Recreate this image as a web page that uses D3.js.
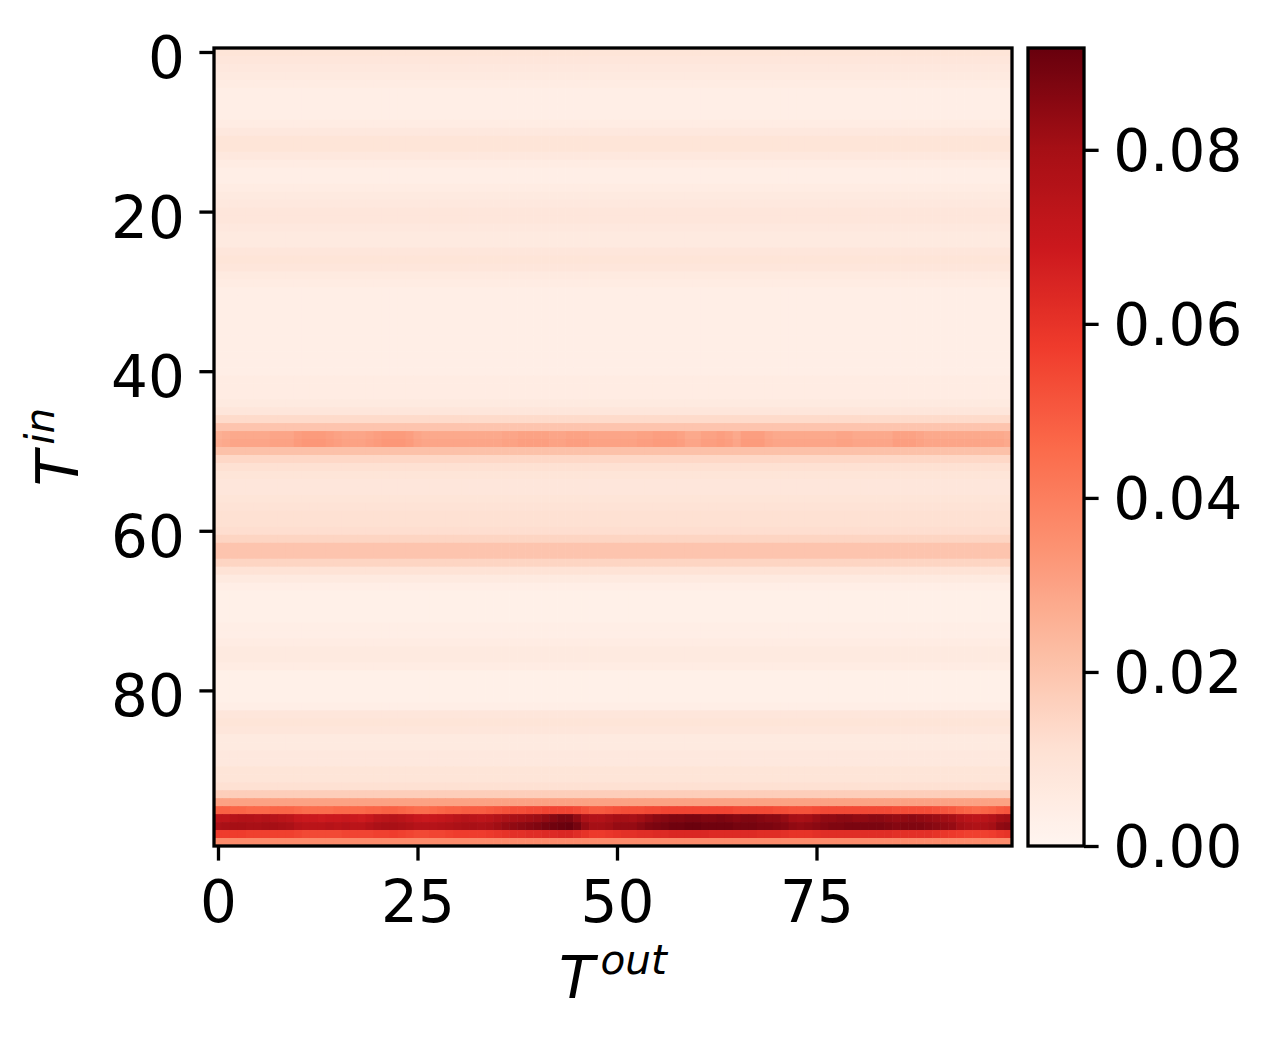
<!DOCTYPE html>
<html>
<head>
<meta charset="utf-8">
<script src="https://cdn.jsdelivr.net/npm/d3@7"></script>
<style>
  html, body { margin: 0; padding: 0; background: #fff; }
  svg { display: block; font-family: "DejaVu Sans", sans-serif; }
</style>
</head>
<body>
<svg id="chart" width="1273" height="1043"></svg>
<script>
// ---------- data ----------
const nCols = 100;
const nRows = 100;
const xTicks = [0, 25, 50, 75];
const yTicks = [0, 20, 40, 60, 80];
const cbTicks = [0.00, 0.02, 0.04, 0.06, 0.08];
const vmin = 0.0;
const vmax = 0.0917;

// column-averaged values for each input row (T^in)
const rowBase = [
  0.009, 0.008, 0.007, 0.006, 0.005, 0.004, 0.004, 0.004, 0.004, 0.005,
  0.007, 0.009, 0.009, 0.007, 0.005, 0.004, 0.004, 0.005, 0.006, 0.007,
  0.008, 0.008, 0.007, 0.006, 0.006, 0.008, 0.009, 0.008, 0.006, 0.005,
  0.004, 0.004, 0.004, 0.004, 0.004, 0.004, 0.004, 0.004, 0.004, 0.004,
  0.004, 0.005, 0.005, 0.005, 0.006, 0.008, 0.013, 0.020, 0.029, 0.030,
  0.021, 0.014, 0.011, 0.009, 0.008, 0.008, 0.009, 0.010, 0.011, 0.011,
  0.012, 0.015, 0.020, 0.020, 0.015, 0.010, 0.006, 0.004, 0.003, 0.003,
  0.003, 0.003, 0.004, 0.004, 0.005, 0.006, 0.006, 0.005, 0.003, 0.003,
  0.003, 0.003, 0.004, 0.008, 0.009, 0.008, 0.006, 0.006, 0.007, 0.007,
  0.009, 0.009, 0.011, 0.017, 0.030, 0.049, 0.077, 0.082, 0.057, 0.036
];

// rows with clearly visible variation along T^out
const row48 = [
  0.026,0.027,0.028,0.028,0.028,0.028,0.028,0.029,0.029,0.029,
  0.031,0.032,0.032,0.032,0.031,0.030,0.029,0.029,0.029,0.030,
  0.031,0.032,0.032,0.032,0.031,0.029,0.028,0.028,0.028,0.028,
  0.028,0.028,0.028,0.028,0.028,0.028,0.029,0.029,0.030,0.030,
  0.030,0.030,0.029,0.029,0.030,0.030,0.030,0.029,0.029,0.029,
  0.029,0.029,0.029,0.030,0.030,0.031,0.031,0.031,0.030,0.028,
  0.028,0.030,0.030,0.031,0.030,0.028,0.031,0.031,0.031,0.029,
  0.028,0.028,0.028,0.028,0.028,0.028,0.028,0.028,0.029,0.029,
  0.028,0.028,0.028,0.028,0.028,0.030,0.030,0.030,0.029,0.028,
  0.028,0.028,0.028,0.028,0.028,0.028,0.028,0.028,0.028,0.027
];
const row49 = [
  0.027,0.028,0.029,0.029,0.029,0.029,0.029,0.030,0.030,0.030,
  0.032,0.033,0.033,0.033,0.032,0.031,0.030,0.030,0.030,0.031,
  0.032,0.033,0.033,0.033,0.032,0.030,0.029,0.029,0.029,0.029,
  0.029,0.029,0.029,0.029,0.029,0.029,0.030,0.030,0.031,0.031,
  0.031,0.031,0.030,0.030,0.031,0.031,0.031,0.030,0.030,0.030,
  0.030,0.030,0.030,0.031,0.031,0.032,0.032,0.032,0.031,0.029,
  0.029,0.031,0.031,0.032,0.031,0.029,0.032,0.032,0.032,0.030,
  0.029,0.029,0.029,0.029,0.029,0.029,0.029,0.029,0.030,0.030,
  0.029,0.029,0.029,0.029,0.029,0.031,0.031,0.031,0.030,0.029,
  0.029,0.029,0.029,0.029,0.029,0.029,0.029,0.029,0.029,0.028
];
const row95 = [
  0.048,0.048,0.047,0.047,0.046,0.046,0.046,0.047,0.047,0.047,
  0.046,0.045,0.045,0.045,0.045,0.046,0.046,0.046,0.046,0.047,
  0.047,0.048,0.048,0.047,0.046,0.045,0.045,0.046,0.047,0.048,
  0.048,0.049,0.049,0.049,0.050,0.051,0.052,0.053,0.053,0.054,
  0.054,0.055,0.055,0.055,0.055,0.054,0.052,0.050,0.050,0.051,
  0.052,0.053,0.053,0.053,0.054,0.054,0.055,0.055,0.055,0.055,
  0.055,0.055,0.055,0.055,0.055,0.054,0.054,0.054,0.054,0.054,
  0.053,0.053,0.052,0.052,0.052,0.053,0.054,0.054,0.054,0.054,
  0.054,0.054,0.054,0.054,0.054,0.053,0.053,0.053,0.053,0.053,
  0.052,0.051,0.050,0.048,0.047,0.046,0.047,0.048,0.050,0.051
];
const row96 = [
  0.073,0.073,0.075,0.076,0.076,0.075,0.076,0.075,0.074,0.073,
  0.070,0.069,0.069,0.068,0.069,0.069,0.070,0.069,0.068,0.070,
  0.073,0.074,0.075,0.074,0.072,0.070,0.069,0.070,0.071,0.072,
  0.074,0.075,0.074,0.073,0.074,0.076,0.078,0.079,0.080,0.081,
  0.082,0.084,0.086,0.088,0.088,0.084,0.078,0.076,0.076,0.078,
  0.080,0.080,0.079,0.081,0.083,0.085,0.086,0.087,0.087,0.088,
  0.088,0.087,0.087,0.088,0.087,0.086,0.087,0.087,0.086,0.085,
  0.085,0.083,0.080,0.079,0.080,0.082,0.084,0.084,0.085,0.085,
  0.084,0.084,0.085,0.085,0.084,0.083,0.084,0.085,0.084,0.083,
  0.082,0.081,0.080,0.076,0.074,0.073,0.074,0.076,0.080,0.081
];
const row97 = [
  0.078,0.079,0.080,0.080,0.079,0.079,0.080,0.080,0.079,0.078,
  0.075,0.074,0.074,0.074,0.075,0.074,0.075,0.074,0.074,0.076,
  0.078,0.079,0.079,0.078,0.077,0.075,0.075,0.075,0.076,0.077,
  0.078,0.079,0.079,0.078,0.079,0.081,0.083,0.084,0.085,0.086,
  0.087,0.089,0.090,0.091,0.0917,0.089,0.083,0.080,0.080,0.081,
  0.083,0.083,0.083,0.085,0.087,0.088,0.089,0.090,0.090,0.091,
  0.091,0.090,0.090,0.090,0.090,0.089,0.089,0.089,0.088,0.088,
  0.087,0.086,0.084,0.083,0.084,0.085,0.086,0.087,0.087,0.088,
  0.088,0.088,0.088,0.088,0.087,0.086,0.087,0.087,0.087,0.086,
  0.085,0.084,0.083,0.080,0.078,0.077,0.078,0.080,0.084,0.085
];
const row98 = [
  0.057,0.057,0.057,0.057,0.056,0.056,0.056,0.056,0.056,0.056,
  0.055,0.054,0.054,0.054,0.054,0.054,0.055,0.055,0.055,0.055,
  0.056,0.056,0.057,0.056,0.055,0.054,0.054,0.055,0.055,0.056,
  0.057,0.057,0.057,0.057,0.058,0.059,0.060,0.061,0.061,0.062,
  0.062,0.063,0.063,0.064,0.064,0.062,0.060,0.058,0.058,0.059,
  0.060,0.061,0.061,0.062,0.062,0.063,0.063,0.064,0.064,0.064,
  0.064,0.064,0.063,0.063,0.063,0.063,0.063,0.063,0.062,0.062,
  0.062,0.061,0.060,0.060,0.060,0.061,0.062,0.062,0.062,0.062,
  0.062,0.062,0.062,0.062,0.062,0.061,0.061,0.061,0.061,0.061,
  0.060,0.059,0.058,0.057,0.056,0.056,0.056,0.057,0.059,0.060
];
const rowDetail = { 48: row48, 49: row49, 95: row95, 96: row96, 97: row97, 98: row98 };

// ---------- layout ----------
const plot = { left: 214, right: 1012, top: 48, bottom: 846 };
const cb = { left: 1028, right: 1084, top: 48, bottom: 846 };
const FS = 58;          // font size (14pt @ 300dpi)
const LW = 3.3;         // spine / tick width
const TL = 14.6;        // tick length

const svg = d3.select("#chart");

const cells = [];
for (let i = 0; i < nRows; i++) {
  for (let j = 0; j < nCols; j++) {
    const v = rowDetail[i] ? rowDetail[i][j] : rowBase[i];
    cells.push({ row: i, col: j, v });
  }
}

const xBand = d3.scaleBand().domain(d3.range(nCols)).range([plot.left, plot.right]);
const yBand = d3.scaleBand().domain(d3.range(nRows)).range([plot.top, plot.bottom]);
const xLin = d3.scaleLinear().domain([-0.5, nCols - 0.5]).range([plot.left, plot.right]);
const yLin = d3.scaleLinear().domain([-0.5, nRows - 0.5]).range([plot.top, plot.bottom]);

const reds = d3.schemeReds[9];
const color = d3.scaleLinear()
  .domain(d3.range(9).map(k => vmin + (vmax - vmin) * k / 8))
  .range(reds)
  .interpolate(d3.interpolateRgb)
  .clamp(true);

svg.append("g")
  .selectAll("rect")
  .data(cells)
  .join("rect")
  .attr("x", d => xBand(d.col))
  .attr("y", d => yBand(d.row))
  .attr("width", xBand.bandwidth() + 0.6)
  .attr("height", yBand.bandwidth() + 0.6)
  .attr("fill", d => color(d.v));

// frame
svg.append("rect")
  .attr("x", plot.left).attr("y", plot.top)
  .attr("width", plot.right - plot.left).attr("height", plot.bottom - plot.top)
  .attr("fill", "none").attr("stroke", "#000").attr("stroke-width", LW);

function styleAxis(g, dy) {
  g.select(".domain").remove();
  g.selectAll(".tick line").attr("stroke", "#000").attr("stroke-width", LW);
  g.selectAll(".tick text").attr("fill", "#000").attr("font-size", FS)
    .attr("font-family", "DejaVu Sans").attr("dy", dy);
}

svg.append("g")
  .attr("transform", `translate(0,${plot.bottom})`)
  .call(d3.axisBottom(xLin).tickValues(xTicks).tickSize(TL).tickPadding(TL).tickFormat(d3.format("d")))
  .call(styleAxis, "0.8em");

svg.append("g")
  .attr("transform", `translate(${plot.left},0)`)
  .call(d3.axisLeft(yLin).tickValues(yTicks).tickSize(TL).tickPadding(TL).tickFormat(d3.format("d")))
  .call(styleAxis, "0.44em");

// axis labels
const xl = svg.append("text")
  .attr("x", (plot.left + plot.right) / 2)
  .attr("y", 998)
  .attr("text-anchor", "middle")
  .attr("font-size", FS)
  .attr("fill", "#000");
xl.append("tspan").attr("font-style", "italic").text("T");
xl.append("tspan").attr("font-style", "italic").attr("font-size", FS * 0.7).attr("dx", 6).attr("dy", -24).text("out");

const yl = svg.append("text")
  .attr("transform", `translate(78,${(plot.top + plot.bottom) / 2}) rotate(-90)`)
  .attr("text-anchor", "middle")
  .attr("font-size", FS)
  .attr("fill", "#000");
yl.append("tspan").attr("font-style", "italic").text("T");
yl.append("tspan").attr("font-style", "italic").attr("font-size", FS * 0.7).attr("dx", 6).attr("dy", -24).text("in");

// colorbar
const defs = svg.append("defs");
const grad = defs.append("linearGradient").attr("id", "cbgrad")
  .attr("x1", 0).attr("y1", 1).attr("x2", 0).attr("y2", 0);
d3.range(0, 65).forEach(k => {
  const t = k / 64;
  grad.append("stop").attr("offset", t).attr("stop-color", color(vmin + t * (vmax - vmin)));
});
svg.append("rect")
  .attr("x", cb.left).attr("y", cb.top)
  .attr("width", cb.right - cb.left).attr("height", cb.bottom - cb.top)
  .attr("fill", "url(#cbgrad)")
  .attr("stroke", "#000").attr("stroke-width", LW);

const cbScale = d3.scaleLinear().domain([vmin, vmax]).range([cb.bottom, cb.top]);
svg.append("g")
  .attr("transform", `translate(${cb.right},0)`)
  .call(d3.axisRight(cbScale).tickValues(cbTicks).tickSize(TL).tickPadding(TL).tickFormat(d3.format(".2f")))
  .call(styleAxis, "0.36em");
</script>
</body>
</html>
